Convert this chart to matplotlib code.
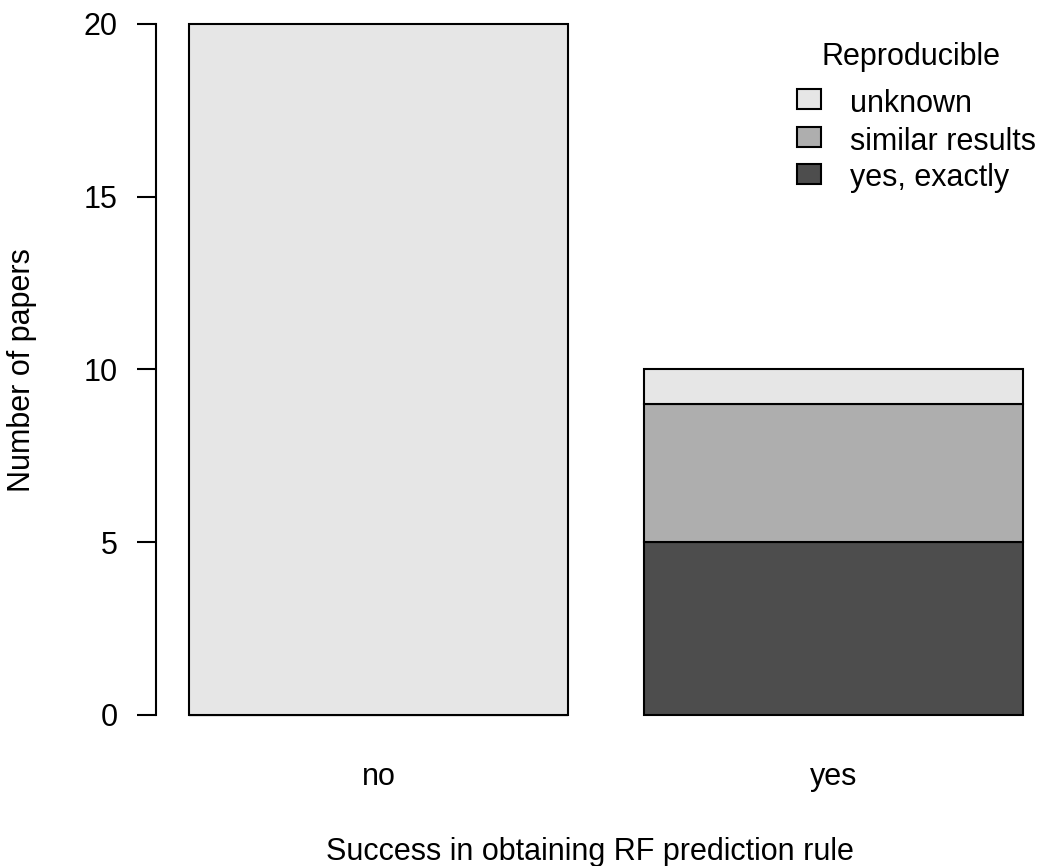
import matplotlib
matplotlib.use("Agg")
import matplotlib.pyplot as plt
from matplotlib.patches import Rectangle
import numpy as np

plt.rcParams['font.family'] = ['Liberation Sans', 'DejaVu Sans']

categories = ["no", "yes"]
series_names = ["yes, exactly", "similar results", "unknown"]
yes_exactly = [0, 5]
similar_results = [0, 4]
unknown = [20, 1]
colors = ["#4D4D4D", "#AEAEAE", "#E6E6E6"]
yticks = [0, 5, 10, 15, 20]

W, H = 1044, 866
fig = plt.figure(figsize=(W / 100, H / 100), dpi=100)

def fx(px): return px / W
def fy(py): return 1 - py / H

ax = fig.add_axes([fx(156), fy(715), fx(1044) - fx(156), fy(24) - fy(715)])
ax.set_xlim(0.113, 2.456)
ax.set_ylim(0, 20)

centers = np.array([0.7, 1.9])
bottom = np.zeros(2)
for vals, col in zip([yes_exactly, similar_results, unknown], colors):
    vals = np.array(vals, dtype=float)
    ax.bar(centers, vals, width=1.0, bottom=bottom, color=col,
           edgecolor="black", linewidth=1.5, clip_on=False)
    bottom += vals

for s in ["top", "right", "bottom"]:
    ax.spines[s].set_visible(False)
ax.spines["left"].set_linewidth(1.5)
ax.spines["left"].set_bounds(0, 20)
ax.set_yticks(yticks)
ax.set_yticklabels([str(t) for t in yticks], fontsize=22)
ax.tick_params(axis="y", length=13.7, width=1.5, pad=14)
ax.set_xticks(centers)
ax.set_xticklabels(categories, fontsize=22)
ax.tick_params(axis="x", length=0, pad=34)

fig.text(fx(590), fy(860), "Success in obtaining RF prediction rule",
         fontsize=22, ha="center", va="baseline")
fig.text(fx(22), fy(370), "Number of papers", fontsize=22,
         ha="center", va="center", rotation=90)

# legend (no frame)
fig.text(fx(911), fy(65), "Reproducible", fontsize=22, ha="center", va="baseline")
leg_rows = [99, 137, 174]
for name, col, ry in zip(["unknown", "similar results", "yes, exactly"],
                         [colors[2], colors[1], colors[0]], leg_rows):
    fig.add_artist(Rectangle((fx(797), fy(ry + 10)), fx(821) - fx(797), fy(ry - 10) - fy(ry + 10),
                             transform=fig.transFigure, facecolor=col,
                             edgecolor="black", linewidth=1.5))
    fig.text(fx(850), fy(ry + 12.5), name, fontsize=22, ha="left", va="baseline")

fig.savefig("out.png", dpi=100)
